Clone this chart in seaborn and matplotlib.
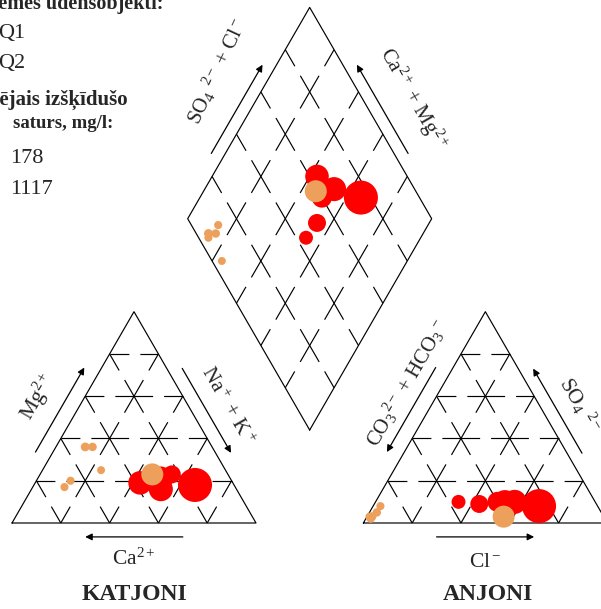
import numpy as np
import pandas as pd
import matplotlib
matplotlib.use('Agg')
import matplotlib.pyplot as plt
import seaborn as sns

# samples: water body group, ion shares (% meq) and total dissolved solids (mg/l)
group = ['Q1', 'Q1', 'Q1', 'Q1', 'Q1', 'Q1', 'Q2', 'Q2', 'Q2', 'Q2', 'Q2', 'Q2']
ca   = [16, 38, 31, 23, 27, 28, 31, 52, 49, 66, 51, 70]
mg   = [18, 19, 16, 23, 20, 22, 23, 36, 36, 20, 25, 17]
na_k = [66, 43, 53, 54, 53, 50, 46, 12, 15, 14, 24, 13]
hco3 = [24, 37, 33, 48, 56, 40, 41, 95, 92, 89, 96, 96]
cl   = [68, 53, 57, 43, 34, 50, 56, 2, 3, 3, 1, 2]
so4  = [8, 10, 10, 9, 10, 10, 3, 3, 5, 8, 3, 2]
tds  = [1117, 600, 620, 400, 290, 470, 540, 190, 185, 180, 178, 180]

legend_groups = ['Q1', 'Q2']
legend_tds = [178, 1117]
colors = {'Q1': '#FF0000', 'Q2': '#ECA05B'}

sns.set_style('white')
plt.rcParams['font.family'] = ['Liberation Serif', 'DejaVu Serif']
plt.rcParams['mathtext.fontset'] = 'custom'
plt.rcParams['mathtext.rm'] = 'Liberation Serif'
plt.rcParams['mathtext.it'] = 'Liberation Serif:italic'
plt.rcParams['mathtext.bf'] = 'Liberation Serif:bold'
plt.rcParams['lines.scale_dashes'] = False

H = np.sqrt(3) / 2
GAP = 0.44
OX = 1 + GAP


def cation_xy(c, m, n):
    return n + m / 2, m * H


def anion_xy(h, c, s):
    return OX + c + s / 2, s * H


def diamond_xy(camg, so4cl):
    return 1 + GAP / 2 + (so4cl - camg) / 2, H * (GAP + camg + so4cl)


# build the point table for the three panels
rows = []
for i in range(len(group)):
    c, m, n = ca[i] / 100, mg[i] / 100, na_k[i] / 100
    h, l, s = hco3[i] / 100, cl[i] / 100, so4[i] / 100
    for x, y in [cation_xy(c, m, n), anion_xy(h, l, s), diamond_xy(c + m, l + s)]:
        rows.append({'x': x, 'y': y, 'group': group[i], 'tds': tds[i]})
df = pd.DataFrame(rows)
df = pd.concat([df[df.group == 'Q1'], df[df.group == 'Q2']])

fig = plt.figure(figsize=(6.01, 6.09), dpi=100)
ax = fig.add_axes([0, 0, 1, 1])
S = 244.0
ax.axis('off')

LW = 0.85
# one gap in the middle of every grid cell side, dash centred on the nodes
on, off = 27.2, 7.9
dash = (on / 2, (on, off))


def seg(p, q, **kw):
    ax.plot([p[0], q[0]], [p[1], q[1]], color='black', lw=LW, **kw)


def triangle(x0):
    L, R, T = (x0, 0), (x0 + 1, 0), (x0 + 0.5, H)
    ax.plot([L[0], R[0], T[0], L[0]], [L[1], R[1], T[1], L[1]], color='black', lw=LW)
    for k in range(1, 5):
        f = k / 5
        seg((x0 + f / 2, f * H), (x0 + 1 - f / 2, f * H), linestyle=dash)
        seg((x0 + f, 0), (x0 + f + (1 - f) / 2, (1 - f) * H), linestyle=dash)
        seg((x0 + f, 0), (x0 + f / 2, f * H), linestyle=dash)


def diamond():
    b = np.array([1 + GAP / 2, GAP * H])
    e1 = np.array([-0.5, H])
    e2 = np.array([0.5, H])
    pts = [b, b + e1, b + e1 + e2, b + e2, b]
    ax.plot([p[0] for p in pts], [p[1] for p in pts], color='black', lw=LW)
    for k in range(1, 5):
        f = k / 5
        seg(b + f * e1, b + f * e1 + e2, linestyle=dash)
        seg(b + f * e2, b + f * e2 + e1, linestyle=dash)


triangle(0)
triangle(OX)
diamond()


def along(p0, p1, t, off, n):
    p0, p1, n = np.array(p0), np.array(p1), np.array(n)
    return p0 + t * (p1 - p0) + off * n


def side_arrow(p0, p1, t0, t1, off, n):
    a = along(p0, p1, t0, off, n)
    b = along(p0, p1, t1, off, n)
    ax.annotate('', xy=b, xytext=a,
                arrowprops=dict(arrowstyle='-|>', color='black', lw=0.9,
                                mutation_scale=10, shrinkA=0, shrinkB=0))


def side_label(p0, p1, t, off, n, text, rot, size=15):
    p = along(p0, p1, t, off, n)
    ax.text(p[0], p[1], text, rotation=rot, rotation_mode='anchor',
            ha='center', va='center', fontsize=size)


nl = (-H, 0.5)
nr = (H, 0.5)

# cation triangle
side_arrow((0, 0), (0.5, H), 0.30, 0.70, 0.062, nl)
side_label((0, 0), (0.5, H), 0.50, 0.165, nl, 'Mg$^{2+}$', 60, 15.5)
side_arrow((0.5, H), (1, 0), 0.30, 0.70, 0.055, nr)
side_label((0.5, H), (1, 0), 0.525, 0.135, nr, 'Na$^+$ + K$^+$', -60)
side_arrow((0.70, -0.057), (0.30, -0.057), 0, 1, 0, (0, 0))
ax.text(0.5, -0.15, 'Ca$^{2+}$', ha='center', va='center', fontsize=15.5)
ax.text(0.5, -0.295, 'KATJONI', ha='center', va='center', fontsize=17, fontweight='bold')

# anion triangle
side_arrow((OX, 0), (OX + 0.5, H), 0.70, 0.30, 0.062, nl)
side_label((OX, 0), (OX + 0.5, H), 0.59, 0.13, nl, 'CO$_3$$^{2-}$ + HCO$_3$$^-$', 60)
side_arrow((OX + 1, 0), (OX + 0.5, H), 0.30, 0.70, 0.053, nr)
side_label((OX + 1, 0), (OX + 0.5, H), 0.475, 0.145, nr, 'SO$_4$ $^{2-}$', -60, 15.5)
side_arrow((OX + 0.30, -0.057), (OX + 0.70, -0.057), 0, 1, 0, (0, 0))
ax.text(OX + 0.5, -0.16, 'Cl$^-$', ha='center', va='center', fontsize=15.5)
ax.text(OX + 0.51, -0.295, 'ANJONI', ha='center', va='center', fontsize=17, fontweight='bold')

# diamond
DL = (0.5 + GAP / 2, H * (1 + GAP))
DR = (1.5 + GAP / 2, H * (1 + GAP))
DT = (1 + GAP / 2, H * (2 + GAP))
side_arrow(DL, DT, 0.28, 0.70, 0.05, nl)
side_label(DL, DT, 0.585, 0.20, nl, 'SO$_4$ $^{2-}$ + Cl$^-$', 65)
side_arrow(DR, DT, 0.28, 0.70, 0.05, nr)
side_label(DR, DT, 0.465, 0.18, nr, 'Ca$^{2+}$ + Mg$^{2+}$', -60)

# sample points
sns.scatterplot(data=df, x='x', y='y', hue='group', size='tds',
                sizes=(33, 600), size_norm=(178, 1117), palette=colors,
                linewidth=0, legend=False, ax=ax, zorder=3)
ax.set_xlim(-12 / S, 589 / S)
ax.set_ylim(-86 / S, 523 / S)


# legend block (cut by the left edge)
def px(x, y):
    return (x - 12) / S, (523 - y) / S


ax.text(*px(163, 9), 'Pazemes ūdensobjekti:', ha='right', va='baseline',
        fontsize=14.5, fontweight='bold')
for name, yy in zip(legend_groups, [38, 68]):
    ax.text(*px(25, yy), name, ha='right', va='baseline', fontsize=16)
ax.text(*px(128, 105), 'Kopējais izšķīdušo', ha='right', va='baseline',
        fontsize=15, fontweight='bold')
ax.text(*px(13, 128), 'saturs, mg/l:', ha='left', va='baseline',
        fontsize=13.5, fontweight='bold')
for val, yy in zip(legend_tds, [163, 194]):
    ax.text(*px(10, yy), str(val), ha='left', va='baseline', fontsize=16)

fig.savefig('out.png', dpi=100)
